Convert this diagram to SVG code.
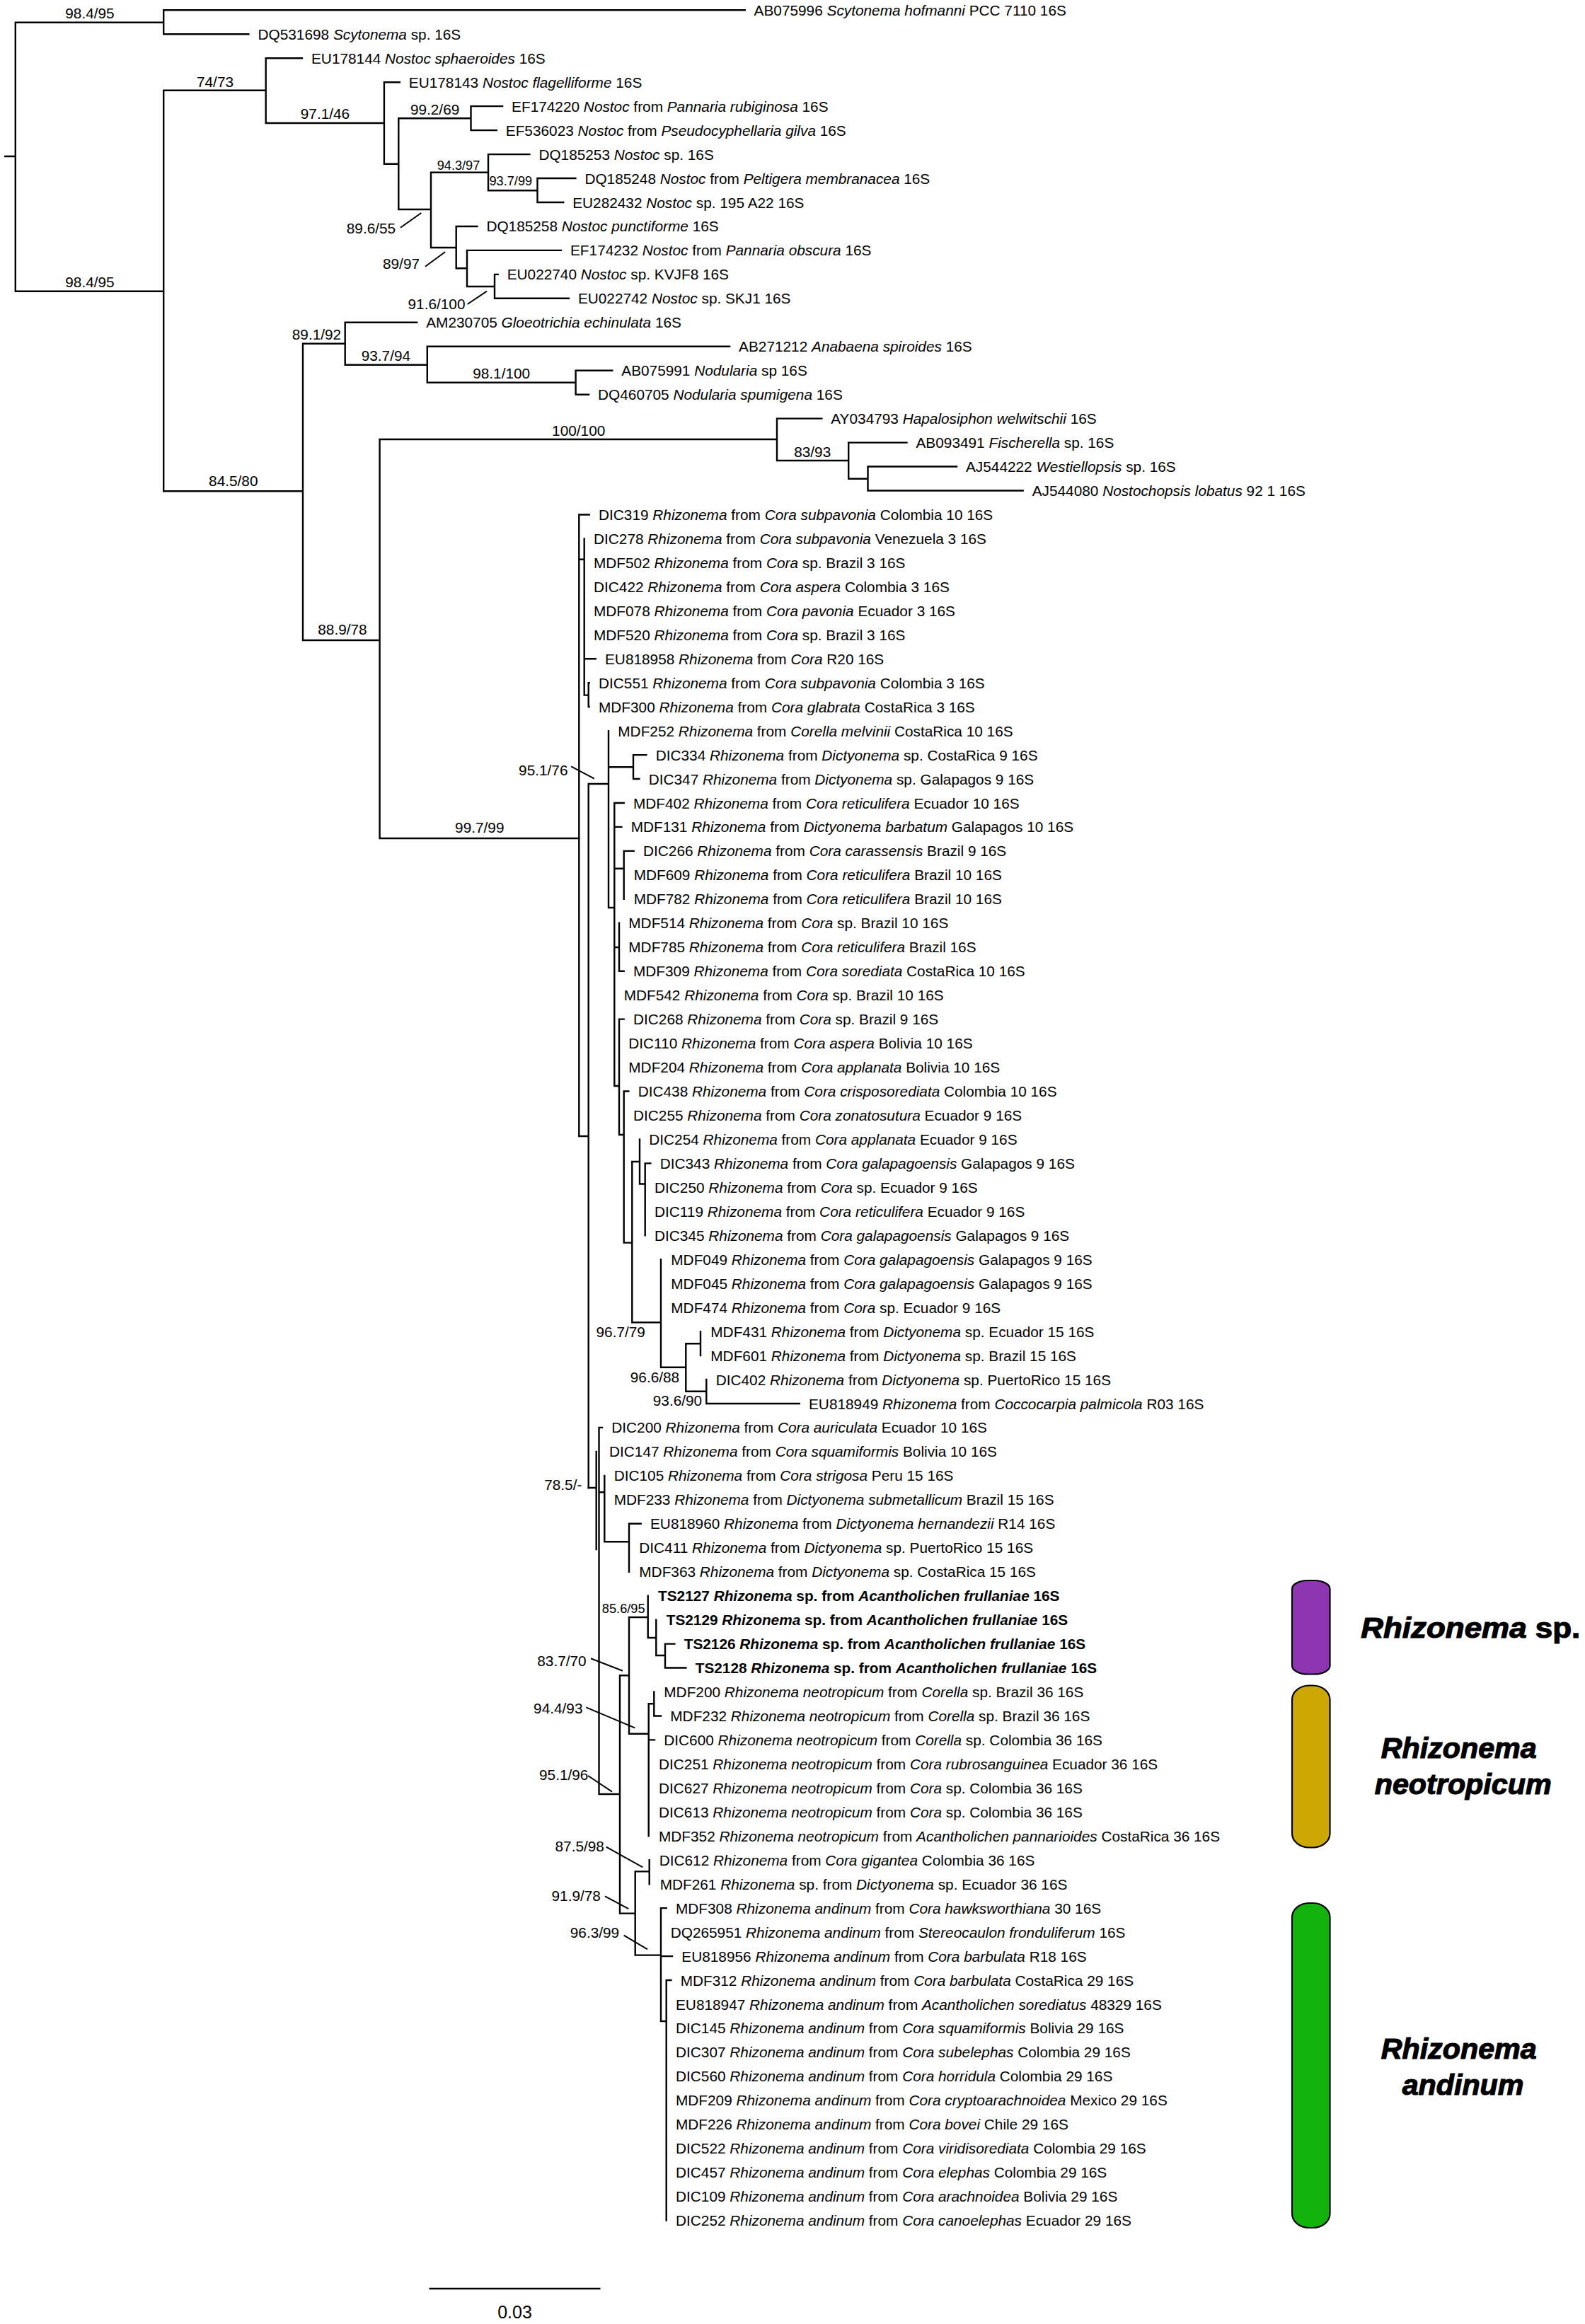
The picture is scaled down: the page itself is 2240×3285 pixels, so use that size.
<svg xmlns="http://www.w3.org/2000/svg" width="2240" height="3285" viewBox="0 0 2240 3285">
<style>
.t{font-family:"Liberation Sans",Arial,sans-serif;font-size:20.8px;fill:#000}
.i{font-style:italic}
.b{font-weight:bold}
.bs{font-family:"Liberation Sans",Arial,sans-serif;font-size:20.8px;fill:#000;text-anchor:middle}
.sm{font-size:18.2px}
.br{stroke:#000;stroke-width:2.4;fill:none;stroke-linecap:square}
.ld{stroke:#000;stroke-width:2;fill:none}
.lg{font-family:"Liberation Sans",Arial,sans-serif;font-size:41px;font-weight:bold;fill:#000;stroke:#000;stroke-width:1.2}
.bar{stroke:#000;stroke-width:2.2}
</style>
<rect width="2240" height="3285" fill="#fff"/>
<g id="connectors">
<path class="br" d="M7.3 221H21.8M21.8 31.7V411.7M21.8 31.7H231.2M231.2 14.3V48.3M231.2 14.3H1052.8M231.2 48.3H351.4M21.8 411.7H231.2M231.2 127.7V694.3M231.2 127.7H375.7M375.7 82.2V174M375.7 82.2H427M375.7 174H542.9M542.9 116.2V231.7M542.9 116.2H564.8M542.9 231.7H563.3M563.3 167.3V296M563.3 167.3H665.5M665.5 150.1V184.1M665.5 150.1H710.1M665.5 184.1H701.8M563.3 296H609M609 243.7V350M609 243.7H690M690 218.1V269.3M690 218.1H748.4M690 269.3H759.5M759.5 252V286M759.5 252H813.4M759.5 286H796.2M609 350H644.7M644.7 320V379.3M644.7 320H674.4M644.7 379.3H660M660 353.9V405M660 353.9H793M660 405H699M699 387.9V421.8M699 387.9H703.7M699 421.8H803.9"/>
<path class="br" d="M231.2 694.3H428M428 485.7V905M428 485.7H487.7M487.7 455.8V515.7M487.7 455.8H589.2M487.7 515.7H603.8M603.8 489.7V540.7M603.8 489.7H1031.1M603.8 540.7H813.6M813.6 523.7V557.7M813.6 523.7H865.3M813.6 557.7H832.1M428 905H536.6M536.6 621V1185M536.6 621H1098M1098 591.6V651M1098 591.6H1161.3M1098 651H1199.2M1199.2 625.6V676.7M1199.2 625.6H1281.5M1199.2 676.7H1226.5M1226.5 659.5V693.5M1226.5 659.5H1352M1226.5 693.5H1445.7M536.6 1185H818.3"/>
<path class="br" d="M818.3 727.5V1606M818.3 727.5H832.7M818.3 790.8H825.7M825.7 761.4V982.6M825.7 931.2H841.7M825.7 982.6H831.7M831.7 965.2V999.1M831.7 965.2H832.7M831.7 999.1H832.7M818.3 1606H831.7M831.7 1108V2103M831.7 1108H860M860 1033.1V1283M860 1084.2H895M895 1067.1V1101M895 1067.1H913.4M895 1101H903.4M860 1283H868.3M868.3 1135V1535M868.3 1135H881.7M868.3 1168.9H878.4M868.3 1227.8H881.7M881.7 1202.9V1270.8M881.7 1202.9H895.7M868.3 1339H875M875 1304.8V1372.7M875 1372.7H881.7M868.3 1535H875M875 1440.6V1604M875 1440.6H881.7M875 1604H881.7M881.7 1542.5V1756.6M881.7 1542.5H888.4M881.7 1756.6H893.3M893.3 1642V1869.3M893.3 1642H904M904 1610.4V1673.5M904 1673.5H911.7M911.7 1644.4V1746.3M911.7 1644.4H919.4M893.3 1869.3H934M934 1780.2V1932.7M934 1932.7H969.3M969.3 1899.3V1966.7M969.3 1899.3H990M990 1882.1V1916.1M969.3 1966.7H998.3M998.3 1950V1984M998.3 1984H1129.7"/>
<path class="br" d="M831.7 2103H842.7M842.7 2051.9V2190M846.5 2017.9V2536M846.5 2017.9H851M846.5 2109.3H854.3M854.3 2085.9V2179.3M854.3 2179.3H889M889 2153.8V2221.7M889 2153.8H905.7M846.5 2536H876M876 2368.3V2704.6M876 2368.3H889M889 2286V2450.7M889 2286H915.7M915.7 2255.7V2315M915.7 2315H927.3M927.3 2289.6V2340M927.3 2340H940M940 2323.6V2357.5M940 2323.6H953.4M940 2357.5H969.4M889 2450.7H916.7M916.7 2408.3V2595.3M916.7 2408.3H924.3M924.3 2391.5V2425.5M924.3 2425.5H934M916.7 2459.4H925M876 2704.6H897.7M897.7 2645.4V2763.6M897.7 2645.4H917.7M917.7 2629.2V2663.2M897.7 2763.6H934M934 2697.1V2857M934 2697.1H941.7M934 2765.1H950M934 2857H941.7M941.7 2799V3138.6M941.7 2799H948.4"/>
<path class="ld" d="M566 321.7L595.3 301M601 376.7L629.2 356M660.6 430L688 411.7M807.2 1083.3L839.8 1100.7M835 2344.3L880 2361.7M828.3 2413.3L897.3 2442.3M831 2510L865 2532.7M856.7 2610.7L908.3 2639.3M855 2680.4L888.3 2698.2M881.7 2735.7L915 2755.4"/>
<path class="br" d="M607.7 3235H847.3"/>
</g>
<g id="support">
<text class="bs" x="127" y="26">98.4/95</text>
<text class="bs" x="127" y="406">98.4/95</text>
<text class="bs" x="304" y="122.7">74/73</text>
<text class="bs" x="459.5" y="168.3">97.1/46</text>
<text class="bs" x="614.6" y="161.7">99.2/69</text>
<text class="bs sm" x="648" y="240">94.3/97</text>
<text class="bs sm" x="721.8" y="261.7">93.7/99</text>
<text class="bs" x="524.5" y="330">89.6/55</text>
<text class="bs" x="567" y="380">89/97</text>
<text class="bs" x="617" y="436.7">91.6/100</text>
<text class="bs" x="447.5" y="480">89.1/92</text>
<text class="bs" x="545.4" y="510">93.7/94</text>
<text class="bs" x="708.7" y="535">98.1/100</text>
<text class="bs" x="817.7" y="616">100/100</text>
<text class="bs" x="1148.2" y="645.7">83/93</text>
<text class="bs" x="329.8" y="686.7">84.5/80</text>
<text class="bs" x="484" y="897">88.9/78</text>
<text class="bs" x="677.8" y="1177.3">99.7/99</text>
<text class="bs" x="767.8" y="1095.5">95.1/76</text>
<text class="bs" x="877.2" y="1889.5">96.7/79</text>
<text class="bs" x="925.5" y="1954">96.6/88</text>
<text class="bs" x="957.5" y="1987">93.6/90</text>
<text class="bs" x="795.8" y="2105.5">78.5/-</text>
<text class="bs sm" x="881.2" y="2280">85.6/95</text>
<text class="bs" x="794" y="2355">83.7/70</text>
<text class="bs" x="788.8" y="2422">94.4/93</text>
<text class="bs" x="796.7" y="2516">95.1/96</text>
<text class="bs" x="819.2" y="2617">87.5/98</text>
<text class="bs" x="814.2" y="2687">91.9/78</text>
<text class="bs" x="840.5" y="2739">96.3/99</text>
<text class="bs" x="727.5" y="3276.7" style="font-size:25px">0.03</text>
</g>
<g id="t01"><text class="t" x="1065.6" y="21.8">AB075996 <tspan class="i">Scytonema hofmanni</tspan> PCC 7110 16S</text></g>
<g id="t02"><text class="t" x="364.5" y="55.8">DQ531698 <tspan class="i">Scytonema</tspan> sp. 16S</text></g>
<g id="t03"><text class="t" x="440" y="89.7">EU178144 <tspan class="i">Nostoc sphaeroides</tspan> 16S</text></g>
<g id="t04"><text class="t" x="577.8" y="123.7">EU178143 <tspan class="i">Nostoc flagelliforme</tspan> 16S</text></g>
<g id="t05"><text class="t" x="723.1" y="157.6">EF174220 <tspan class="i">Nostoc</tspan> from <tspan class="i">Pannaria rubiginosa</tspan> 16S</text></g>
<g id="t06"><text class="t" x="714.8" y="191.6">EF536023 <tspan class="i">Nostoc</tspan> from <tspan class="i">Pseudocyphellaria gilva</tspan> 16S</text></g>
<g id="t07"><text class="t" x="761.4" y="225.6">DQ185253 <tspan class="i">Nostoc</tspan> sp. 16S</text></g>
<g id="t08"><text class="t" x="826.4" y="259.5">DQ185248 <tspan class="i">Nostoc</tspan> from <tspan class="i">Peltigera membranacea</tspan> 16S</text></g>
<g id="t09"><text class="t" x="809.2" y="293.5">EU282432 <tspan class="i">Nostoc</tspan> sp. 195 A22 16S</text></g>
<g id="t10"><text class="t" x="687.4" y="327.4">DQ185258 <tspan class="i">Nostoc punctiforme</tspan> 16S</text></g>
<g id="t11"><text class="t" x="806" y="361.4">EF174232 <tspan class="i">Nostoc</tspan> from <tspan class="i">Pannaria obscura</tspan> 16S</text></g>
<g id="t12"><text class="t" x="716.7" y="395.4">EU022740 <tspan class="i">Nostoc</tspan> sp. KVJF8 16S</text></g>
<g id="t13"><text class="t" x="816.9" y="429.3">EU022742 <tspan class="i">Nostoc</tspan> sp. SKJ1 16S</text></g>
<g id="t14"><text class="t" x="602.2" y="463.3">AM230705 <tspan class="i">Gloeotrichia echinulata</tspan> 16S</text></g>
<g id="t15"><text class="t" x="1044.1" y="497.2">AB271212 <tspan class="i">Anabaena spiroides</tspan> 16S</text></g>
<g id="t16"><text class="t" x="878.3" y="531.2">AB075991 <tspan class="i">Nodularia</tspan> sp 16S</text></g>
<g id="t17"><text class="t" x="845.1" y="565.2">DQ460705 <tspan class="i">Nodularia spumigena</tspan> 16S</text></g>
<g id="t18"><text class="t" x="1174.3" y="599.1">AY034793 <tspan class="i">Hapalosiphon welwitschii</tspan> 16S</text></g>
<g id="t19"><text class="t" x="1294.5" y="633.1">AB093491 <tspan class="i">Fischerella</tspan> sp. 16S</text></g>
<g id="t20"><text class="t" x="1365" y="667">AJ544222 <tspan class="i">Westiellopsis</tspan> sp. 16S</text></g>
<g id="t21"><text class="t" x="1458.7" y="701">AJ544080 <tspan class="i">Nostochopsis lobatus</tspan> 92 1 16S</text></g>
<g id="t22"><text class="t" x="846" y="735">DIC319 <tspan class="i">Rhizonema</tspan> from <tspan class="i">Cora subpavonia</tspan> Colombia 10 16S</text></g>
<g id="t23"><text class="t" x="839" y="768.9">DIC278 <tspan class="i">Rhizonema</tspan> from <tspan class="i">Cora subpavonia</tspan> Venezuela 3 16S</text></g>
<g id="t24"><text class="t" x="839" y="802.9">MDF502 <tspan class="i">Rhizonema</tspan> from <tspan class="i">Cora</tspan> sp. Brazil 3 16S</text></g>
<g id="t25"><text class="t" x="839" y="836.8">DIC422 <tspan class="i">Rhizonema</tspan> from <tspan class="i">Cora aspera</tspan> Colombia 3 16S</text></g>
<g id="t26"><text class="t" x="839" y="870.8">MDF078 <tspan class="i">Rhizonema</tspan> from <tspan class="i">Cora pavonia</tspan> Ecuador 3 16S</text></g>
<g id="t27"><text class="t" x="839" y="904.8">MDF520 <tspan class="i">Rhizonema</tspan> from <tspan class="i">Cora</tspan> sp. Brazil 3 16S</text></g>
<g id="t28"><text class="t" x="855" y="938.7">EU818958 <tspan class="i">Rhizonema</tspan> from <tspan class="i">Cora</tspan> R20 16S</text></g>
<g id="t29"><text class="t" x="846" y="972.7">DIC551 <tspan class="i">Rhizonema</tspan> from <tspan class="i">Cora subpavonia</tspan> Colombia 3 16S</text></g>
<g id="t30"><text class="t" x="846" y="1006.6">MDF300 <tspan class="i">Rhizonema</tspan> from <tspan class="i">Cora glabrata</tspan> CostaRica 3 16S</text></g>
<g id="t31"><text class="t" x="873.3" y="1040.6">MDF252 <tspan class="i">Rhizonema</tspan> from <tspan class="i">Corella melvinii</tspan> CostaRica 10 16S</text></g>
<g id="t32"><text class="t" x="926.7" y="1074.6">DIC334 <tspan class="i">Rhizonema</tspan> from <tspan class="i">Dictyonema</tspan> sp. CostaRica 9 16S</text></g>
<g id="t33"><text class="t" x="916.7" y="1108.5">DIC347 <tspan class="i">Rhizonema</tspan> from <tspan class="i">Dictyonema</tspan> sp. Galapagos 9 16S</text></g>
<g id="t34"><text class="t" x="895" y="1142.5">MDF402 <tspan class="i">Rhizonema</tspan> from <tspan class="i">Cora reticulifera</tspan> Ecuador 10 16S</text></g>
<g id="t35"><text class="t" x="891.7" y="1176.4">MDF131 <tspan class="i">Rhizonema</tspan> from <tspan class="i">Dictyonema barbatum</tspan> Galapagos 10 16S</text></g>
<g id="t36"><text class="t" x="909" y="1210.4">DIC266 <tspan class="i">Rhizonema</tspan> from <tspan class="i">Cora carassensis</tspan> Brazil 9 16S</text></g>
<g id="t37"><text class="t" x="895.7" y="1244.4">MDF609 <tspan class="i">Rhizonema</tspan> from <tspan class="i">Cora reticulifera</tspan> Brazil 10 16S</text></g>
<g id="t38"><text class="t" x="895.7" y="1278.3">MDF782 <tspan class="i">Rhizonema</tspan> from <tspan class="i">Cora reticulifera</tspan> Brazil 10 16S</text></g>
<g id="t39"><text class="t" x="888.3" y="1312.3">MDF514 <tspan class="i">Rhizonema</tspan> from <tspan class="i">Cora</tspan> sp. Brazil 10 16S</text></g>
<g id="t40"><text class="t" x="888.3" y="1346.2">MDF785 <tspan class="i">Rhizonema</tspan> from <tspan class="i">Cora reticulifera</tspan> Brazil 16S</text></g>
<g id="t41"><text class="t" x="895" y="1380.2">MDF309 <tspan class="i">Rhizonema</tspan> from <tspan class="i">Cora sorediata</tspan> CostaRica 10 16S</text></g>
<g id="t42"><text class="t" x="881.7" y="1414.2">MDF542 <tspan class="i">Rhizonema</tspan> from <tspan class="i">Cora</tspan> sp. Brazil 10 16S</text></g>
<g id="t43"><text class="t" x="895" y="1448.1">DIC268 <tspan class="i">Rhizonema</tspan> from <tspan class="i">Cora</tspan> sp. Brazil 9 16S</text></g>
<g id="t44"><text class="t" x="888.3" y="1482.1">DIC110 <tspan class="i">Rhizonema</tspan> from <tspan class="i">Cora aspera</tspan> Bolivia 10 16S</text></g>
<g id="t45"><text class="t" x="888.3" y="1516">MDF204 <tspan class="i">Rhizonema</tspan> from <tspan class="i">Cora applanata</tspan> Bolivia 10 16S</text></g>
<g id="t46"><text class="t" x="901.7" y="1550">DIC438 <tspan class="i">Rhizonema</tspan> from <tspan class="i">Cora crisposorediata</tspan> Colombia 10 16S</text></g>
<g id="t47"><text class="t" x="895" y="1584">DIC255 <tspan class="i">Rhizonema</tspan> from <tspan class="i">Cora zonatosutura</tspan> Ecuador 9 16S</text></g>
<g id="t48"><text class="t" x="917.3" y="1617.9">DIC254 <tspan class="i">Rhizonema</tspan> from <tspan class="i">Cora applanata</tspan> Ecuador 9 16S</text></g>
<g id="t49"><text class="t" x="932.7" y="1651.9">DIC343 <tspan class="i">Rhizonema</tspan> from <tspan class="i">Cora galapagoensis</tspan> Galapagos 9 16S</text></g>
<g id="t50"><text class="t" x="925" y="1685.8">DIC250 <tspan class="i">Rhizonema</tspan> from <tspan class="i">Cora</tspan> sp. Ecuador 9 16S</text></g>
<g id="t51"><text class="t" x="925" y="1719.8">DIC119 <tspan class="i">Rhizonema</tspan> from <tspan class="i">Cora reticulifera</tspan> Ecuador 9 16S</text></g>
<g id="t52"><text class="t" x="925" y="1753.8">DIC345 <tspan class="i">Rhizonema</tspan> from <tspan class="i">Cora galapagoensis</tspan> Galapagos 9 16S</text></g>
<g id="t53"><text class="t" x="948.3" y="1787.7">MDF049 <tspan class="i">Rhizonema</tspan> from <tspan class="i">Cora galapagoensis</tspan> Galapagos 9 16S</text></g>
<g id="t54"><text class="t" x="948.3" y="1821.7">MDF045 <tspan class="i">Rhizonema</tspan> from <tspan class="i">Cora galapagoensis</tspan> Galapagos 9 16S</text></g>
<g id="t55"><text class="t" x="948.3" y="1855.6">MDF474 <tspan class="i">Rhizonema</tspan> from <tspan class="i">Cora</tspan> sp. Ecuador 9 16S</text></g>
<g id="t56"><text class="t" x="1004.3" y="1889.6">MDF431 <tspan class="i">Rhizonema</tspan> from <tspan class="i">Dictyonema</tspan> sp. Ecuador 15 16S</text></g>
<g id="t57"><text class="t" x="1004.3" y="1923.6">MDF601 <tspan class="i">Rhizonema</tspan> from <tspan class="i">Dictyonema</tspan> sp. Brazil 15 16S</text></g>
<g id="t58"><text class="t" x="1011.7" y="1957.5">DIC402 <tspan class="i">Rhizonema</tspan> from <tspan class="i">Dictyonema</tspan> sp. PuertoRico 15 16S</text></g>
<g id="t59"><text class="t" x="1143" y="1991.5">EU818949 <tspan class="i">Rhizonema</tspan> from <tspan class="i">Coccocarpia palmicola</tspan> R03 16S</text></g>
<g id="t60"><text class="t" x="864.3" y="2025.4">DIC200 <tspan class="i">Rhizonema</tspan> from <tspan class="i">Cora auriculata</tspan> Ecuador 10 16S</text></g>
<g id="t61"><text class="t" x="861" y="2059.4">DIC147 <tspan class="i">Rhizonema</tspan> from <tspan class="i">Cora squamiformis</tspan> Bolivia 10 16S</text></g>
<g id="t62"><text class="t" x="867.7" y="2093.4">DIC105 <tspan class="i">Rhizonema</tspan> from <tspan class="i">Cora strigosa</tspan> Peru 15 16S</text></g>
<g id="t63"><text class="t" x="867.7" y="2127.3">MDF233 <tspan class="i">Rhizonema</tspan> from <tspan class="i">Dictyonema submetallicum</tspan> Brazil 15 16S</text></g>
<g id="t64"><text class="t" x="919" y="2161.3">EU818960 <tspan class="i">Rhizonema</tspan> from <tspan class="i">Dictyonema hernandezii</tspan> R14 16S</text></g>
<g id="t65"><text class="t" x="903.3" y="2195.2">DIC411 <tspan class="i">Rhizonema</tspan> from <tspan class="i">Dictyonema</tspan> sp. PuertoRico 15 16S</text></g>
<g id="t66"><text class="t" x="903.3" y="2229.2">MDF363 <tspan class="i">Rhizonema</tspan> from <tspan class="i">Dictyonema</tspan> sp. CostaRica 15 16S</text></g>
<g id="t67"><text class="t b" x="930" y="2263.2">TS2127 <tspan class="i">Rhizonema</tspan> sp. from <tspan class="i">Acantholichen frullaniae</tspan> 16S</text></g>
<g id="t68"><text class="t b" x="941.7" y="2297.1">TS2129 <tspan class="i">Rhizonema</tspan> sp. from <tspan class="i">Acantholichen frullaniae</tspan> 16S</text></g>
<g id="t69"><text class="t b" x="966.7" y="2331.1">TS2126 <tspan class="i">Rhizonema</tspan> sp. from <tspan class="i">Acantholichen frullaniae</tspan> 16S</text></g>
<g id="t70"><text class="t b" x="982.7" y="2365">TS2128 <tspan class="i">Rhizonema</tspan> sp. from <tspan class="i">Acantholichen frullaniae</tspan> 16S</text></g>
<g id="t71"><text class="t" x="938.3" y="2399">MDF200 <tspan class="i">Rhizonema neotropicum</tspan> from <tspan class="i">Corella</tspan> sp. Brazil 36 16S</text></g>
<g id="t72"><text class="t" x="947.3" y="2433">MDF232 <tspan class="i">Rhizonema neotropicum</tspan> from <tspan class="i">Corella</tspan> sp. Brazil 36 16S</text></g>
<g id="t73"><text class="t" x="938.3" y="2466.9">DIC600 <tspan class="i">Rhizonema neotropicum</tspan> from <tspan class="i">Corella</tspan> sp. Colombia 36 16S</text></g>
<g id="t74"><text class="t" x="931" y="2500.9">DIC251 <tspan class="i">Rhizonema neotropicum</tspan> from <tspan class="i">Cora rubrosanguinea</tspan> Ecuador 36 16S</text></g>
<g id="t75"><text class="t" x="931" y="2534.8">DIC627 <tspan class="i">Rhizonema neotropicum</tspan> from <tspan class="i">Cora</tspan> sp. Colombia 36 16S</text></g>
<g id="t76"><text class="t" x="931" y="2568.8">DIC613 <tspan class="i">Rhizonema neotropicum</tspan> from <tspan class="i">Cora</tspan> sp. Colombia 36 16S</text></g>
<g id="t77"><text class="t" x="931" y="2602.8">MDF352 <tspan class="i">Rhizonema neotropicum</tspan> from <tspan class="i">Acantholichen pannarioides</tspan> CostaRica 36 16S</text></g>
<g id="t78"><text class="t" x="931.7" y="2636.7">DIC612 <tspan class="i">Rhizonema</tspan> from <tspan class="i">Cora gigantea</tspan> Colombia 36 16S</text></g>
<g id="t79"><text class="t" x="932.7" y="2670.7">MDF261 <tspan class="i">Rhizonema</tspan> sp. from <tspan class="i">Dictyonema</tspan> sp. Ecuador 36 16S</text></g>
<g id="t80"><text class="t" x="955" y="2704.6">MDF308 <tspan class="i">Rhizonema andinum</tspan> from <tspan class="i">Cora hawksworthiana</tspan> 30 16S</text></g>
<g id="t81"><text class="t" x="947.7" y="2738.6">DQ265951 <tspan class="i">Rhizonema andinum</tspan> from <tspan class="i">Stereocaulon fronduliferum</tspan> 16S</text></g>
<g id="t82"><text class="t" x="963.3" y="2772.6">EU818956 <tspan class="i">Rhizonema andinum</tspan> from <tspan class="i">Cora barbulata</tspan> R18 16S</text></g>
<g id="t83"><text class="t" x="961.7" y="2806.5">MDF312 <tspan class="i">Rhizonema andinum</tspan> from <tspan class="i">Cora barbulata</tspan> CostaRica 29 16S</text></g>
<g id="t84"><text class="t" x="955" y="2840.5">EU818947 <tspan class="i">Rhizonema andinum</tspan> from <tspan class="i">Acantholichen sorediatus</tspan> 48329 16S</text></g>
<g id="t85"><text class="t" x="955" y="2874.4">DIC145 <tspan class="i">Rhizonema andinum</tspan> from <tspan class="i">Cora squamiformis</tspan> Bolivia 29 16S</text></g>
<g id="t86"><text class="t" x="955" y="2908.4">DIC307 <tspan class="i">Rhizonema andinum</tspan> from <tspan class="i">Cora subelephas</tspan> Colombia 29 16S</text></g>
<g id="t87"><text class="t" x="955" y="2942.4">DIC560 <tspan class="i">Rhizonema andinum</tspan> from <tspan class="i">Cora horridula</tspan> Colombia 29 16S</text></g>
<g id="t88"><text class="t" x="955" y="2976.3">MDF209 <tspan class="i">Rhizonema andinum</tspan> from <tspan class="i">Cora cryptoarachnoidea</tspan> Mexico 29 16S</text></g>
<g id="t89"><text class="t" x="955" y="3010.3">MDF226 <tspan class="i">Rhizonema andinum</tspan> from <tspan class="i">Cora bovei</tspan> Chile 29 16S</text></g>
<g id="t90"><text class="t" x="955" y="3044.2">DIC522 <tspan class="i">Rhizonema andinum</tspan> from <tspan class="i">Cora viridisorediata</tspan> Colombia 29 16S</text></g>
<g id="t91"><text class="t" x="955" y="3078.2">DIC457 <tspan class="i">Rhizonema andinum</tspan> from <tspan class="i">Cora elephas</tspan> Colombia 29 16S</text></g>
<g id="t92"><text class="t" x="955" y="3112.2">DIC109 <tspan class="i">Rhizonema andinum</tspan> from <tspan class="i">Cora arachnoidea</tspan> Bolivia 29 16S</text></g>
<g id="t93"><text class="t" x="955" y="3146.1">DIC252 <tspan class="i">Rhizonema andinum</tspan> from <tspan class="i">Cora canoelephas</tspan> Ecuador 29 16S</text></g>
<g id="legend-sp">
<rect class="bar" x="1826" y="2234" width="53.5" height="132.5" rx="22" ry="12" fill="#8E36B1"/>
<text class="lg" x="1923.3" y="2314.5" textLength="310" lengthAdjust="spacingAndGlyphs"><tspan class="i">Rhizonema</tspan> sp.</text>
</g>
<g id="legend-neotropicum">
<rect class="bar" x="1826" y="2382.5" width="53.5" height="229" rx="24" ry="20" fill="#CDA804"/>
<text class="lg i" x="1951.7" y="2484.8" textLength="220" lengthAdjust="spacingAndGlyphs">Rhizonema</text>
<text class="lg i" x="1942.7" y="2535.6" textLength="250" lengthAdjust="spacingAndGlyphs">neotropicum</text>
</g>
<g id="legend-andinum">
<rect class="bar" x="1826" y="2690" width="53.5" height="459" rx="24" ry="20" fill="#13B30E"/>
<text class="lg i" x="1951.7" y="2910.3" textLength="220" lengthAdjust="spacingAndGlyphs">Rhizonema</text>
<text class="lg i" x="1981.7" y="2961.2" textLength="171.7" lengthAdjust="spacingAndGlyphs">andinum</text>
</g>
</svg>
